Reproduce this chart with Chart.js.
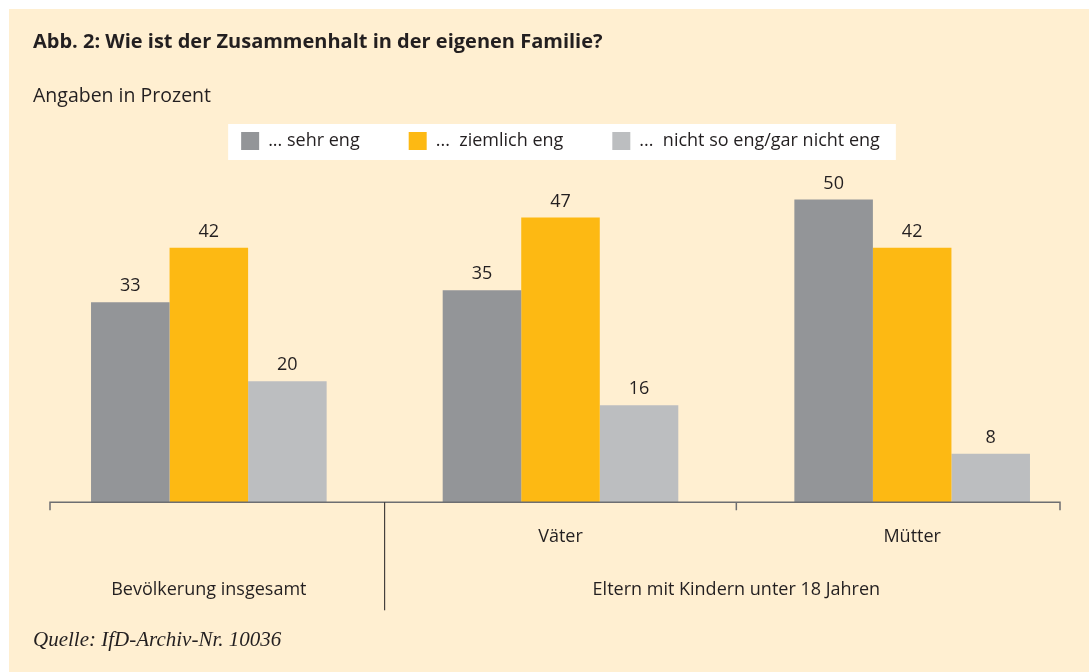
<!DOCTYPE html>
<html>
<head>
<meta charset="utf-8">
<script src="https://cdn.jsdelivr.net/npm/chart.js@4.4.0/dist/chart.umd.min.js"></script>
<style>
  html, body { margin: 0; padding: 0; background: #fff; }
  #wrap { width: 1089px; height: 672px; }
</style>
</head>
<body>
<div id="wrap"><canvas id="chart" width="1089" height="672"></canvas></div>
<script>
// data
const categories = [['', 'Bevölkerung insgesamt'], 'Väter', 'Mütter'];
const groupLabel = 'Eltern mit Kindern unter 18 Jahren';
const seriesNames = ['... sehr eng', '...  ziemlich eng', '...  nicht so eng/gar nicht eng'];
const sehrEng = [33, 35, 50];
const ziemlichEng = [42, 47, 42];
const nichtEng = [20, 16, 8];

const titleText = 'Abb. 2: Wie ist der Zusammenhalt in der eigenen Familie?';
const unitText = 'Angaben in Prozent';
const sourceText = 'Quelle: IfD-Archiv-Nr. 10036';

const colors = ['#939598', '#FDB913', '#BCBEC0'];
const cream = '#FFEFD1';
const ink = '#231F20';
const font = 'Open Sans';

// cream panel + white box behind legend
const backdrop = {
  id: 'backdrop',
  beforeDraw(chart) {
    const ctx = chart.ctx;
    ctx.save();
    ctx.fillStyle = '#fff';
    ctx.fillRect(0, 0, chart.width, chart.height);
    ctx.fillStyle = cream;
    ctx.fillRect(9, 9, chart.width - 9, chart.height - 9);
    const boxes = chart.legend.legendHitBoxes;
    if (boxes && boxes.length) {
      const left = Math.min(...boxes.map(b => b.left));
      const right = Math.max(...boxes.map(b => b.left + b.width));
      const top = Math.min(...boxes.map(b => b.top));
      ctx.fillStyle = '#fff';
      ctx.fillRect(left - 13, top - 8, right - left + 29, 36);
    }
    ctx.fillStyle = ink;
    ctx.font = '19.5px "' + font + '"';
    ctx.textBaseline = 'middle';
    ctx.fillText(unitText, 33, 96);
    ctx.restore();
  }
};

// value labels above bars
const valueLabels = {
  id: 'valueLabels',
  afterDatasetsDraw(chart) {
    const ctx = chart.ctx;
    ctx.save();
    ctx.fillStyle = ink;
    ctx.font = '18px "' + font + '"';
    ctx.textAlign = 'center';
    ctx.textBaseline = 'middle';
    chart.data.datasets.forEach((ds, i) => {
      chart.getDatasetMeta(i).data.forEach((bar, j) => {
        ctx.fillText(ds.data[j], bar.x, bar.y - 16);
      });
    });
    ctx.restore();
  }
};

// axis line, ticks, divider and group label
const axisDeco = {
  id: 'axisDeco',
  afterDraw(chart) {
    const ctx = chart.ctx;
    const x = chart.scales.x;
    const y0 = chart.chartArea.bottom;
    const b1 = (x.getPixelForValue(0) + x.getPixelForValue(1)) / 2;
    const b2 = (x.getPixelForValue(1) + x.getPixelForValue(2)) / 2;
    const left = x.left + 17;
    const right = x.right - 28;
    ctx.save();
    ctx.strokeStyle = '#6D6E71';
    ctx.lineWidth = 1.5;
    ctx.beginPath();
    ctx.moveTo(left, y0 + 8);
    ctx.lineTo(left, y0);
    ctx.lineTo(right, y0);
    ctx.lineTo(right, y0 + 8);
    ctx.moveTo(b2, y0);
    ctx.lineTo(b2, y0 + 8);
    ctx.stroke();
    ctx.strokeStyle = ink;
    ctx.lineWidth = 1;
    ctx.beginPath();
    ctx.moveTo(b1, y0);
    ctx.lineTo(b1, y0 + 108);
    ctx.stroke();
    ctx.fillStyle = ink;
    ctx.font = '18px "' + font + '"';
    ctx.textAlign = 'center';
    ctx.textBaseline = 'middle';
    ctx.fillText(groupLabel, b2, y0 + 88);
    ctx.restore();
  }
};

new Chart(document.getElementById('chart'), {
  type: 'bar',
  data: {
    labels: categories,
    datasets: [
      { label: seriesNames[0], data: sehrEng, backgroundColor: colors[0] },
      { label: seriesNames[1], data: ziemlichEng, backgroundColor: colors[1] },
      { label: seriesNames[2], data: nichtEng, backgroundColor: colors[2] }
    ]
  },
  options: {
    responsive: false,
    animation: false,
    datasets: { bar: { categoryPercentage: 0.67, barPercentage: 1.0 } },
    layout: { padding: { top: 9, left: 33, right: 1, bottom: 0 } },
    scales: {
      x: {
        grid: { display: false, drawTicks: false },
        border: { display: false },
        ticks: {
          color: ink,
          font: { family: font, size: 18, lineHeight: 53 / 18 },
          padding: 8.5,
          maxRotation: 0,
          autoSkip: false
        }
      },
      y: { display: false, min: 0, max: 56.5 }
    },
    plugins: {
      title: {
        display: true,
        text: titleText,
        align: 'start',
        color: ink,
        font: { family: font, size: 20, weight: 'bold' },
        padding: { top: 21, bottom: 29 }
      },
      subtitle: {
        display: true,
        position: 'bottom',
        text: sourceText,
        align: 'start',
        color: ink,
        font: { family: 'Liberation Serif', size: 21, style: 'italic' },
        padding: { top: 2.1, bottom: 19.4 }
      },
      legend: {
        display: true,
        labels: {
          color: ink,
          boxWidth: 18,
          boxHeight: 18,
          padding: 49,
          font: { family: font, size: 18 }
        }
      },
      tooltip: { enabled: false }
    }
  },
  plugins: [backdrop, valueLabels, axisDeco]
});
</script>
</body>
</html>
